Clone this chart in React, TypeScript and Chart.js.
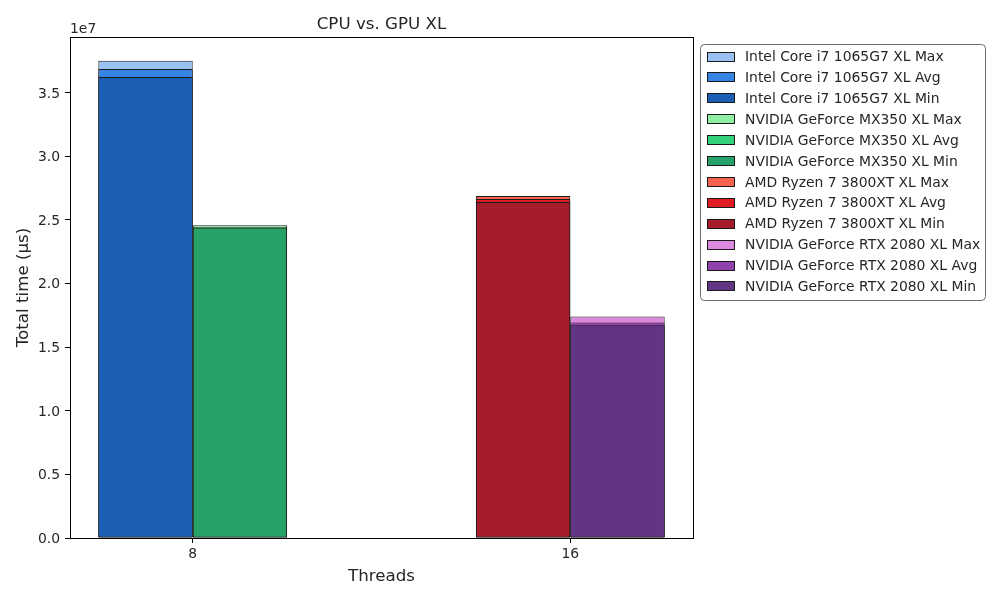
import { useEffect, useRef } from 'react';
import { Chart, registerables } from 'chart.js';

Chart.register(...registerables);

// ---- data ----
const threads = ['8', '16'];
const chipNames = [
  'Intel Core i7 1065G7',
  'NVIDIA GeForce MX350',
  'AMD Ryzen 7 3800XT',
  'NVIDIA GeForce RTX 2080',
];
const chipThreadIndex = [0, 0, 1, 1];
const chipGroup = ['cpu', 'gpu', 'cpu', 'gpu'];
const maxValues = [3.748e7, 2.457e7, 2.686e7, 1.74e7];
const avgValues = [3.685e7, 2.441e7, 2.663e7, 1.693e7];
const minValues = [3.622e7, 2.433e7, 2.639e7, 1.672e7];
const maxColors = ['#99c1f1', '#8ff0a4', '#f66151', '#dc8add'];
const avgColors = ['#3584e4', '#33d17a', '#e01b24', '#9141ac'];
const minColors = ['#1a5fb4', '#26a269', '#a51d2d', '#613583'];
const yTickValues = [0, 0.5e7, 1.0e7, 1.5e7, 2.0e7, 2.5e7, 3.0e7, 3.5e7];
const barWidthUnits = 0.25;

const FONT = "'DejaVu Sans', 'Liberation Sans', sans-serif";
const TEXT = '#262626';

export default function App() {
  const ref = useRef<HTMLCanvasElement | null>(null);

  useEffect(() => {
    if (!ref.current) return;

    const datasets: any[] = [];
    chipNames.forEach((name, c) => {
      const stats = [
        { s: 'Max', v: maxValues[c], col: maxColors[c], order: 3 },
        { s: 'Avg', v: avgValues[c], col: avgColors[c], order: 2 },
        { s: 'Min', v: minValues[c], col: minColors[c], order: 1 },
      ];
      stats.forEach((st) => {
        datasets.push({
          label: `${name} XL ${st.s}`,
          data: [{ x: chipThreadIndex[c], y: st.v }],
          backgroundColor: st.col,
          borderColor: '#1a1a1a',
          borderWidth: 1,
          borderSkipped: false,
          stack: chipGroup[c],
          order: st.order,
          categoryPercentage: barWidthUnits * 2,
          barPercentage: 1,
        });
      });
    });

    const allValues = [...maxValues, ...avgValues, ...minValues];
    const yMax = Math.max(...allValues) * 1.05;
    const xLo = -barWidthUnits;
    const xHi = threads.length - 1 + barWidthUnits;
    const xPad = (xHi - xLo) * 0.05;

    const decor = {
      id: 'decor',
      afterDraw(chart: any) {
        const { ctx, chartArea: a } = chart;
        ctx.save();
        // frame
        ctx.strokeStyle = '#000';
        ctx.lineWidth = 1;
        const l = Math.round(a.left) + 0.5;
        const t = Math.round(a.top) + 0.5;
        const r = Math.round(a.right) + 0.5;
        const b = Math.round(a.bottom) + 0.5;
        ctx.strokeRect(l, t, r - l, b - t);
        // title
        ctx.fillStyle = TEXT;
        ctx.font = `16.7px ${FONT}`;
        ctx.textAlign = 'center';
        ctx.textBaseline = 'middle';
        ctx.fillText('CPU vs. GPU XL', (a.left + a.right) / 2, 24.5);
        // offset text
        ctx.font = `13.9px ${FONT}`;
        ctx.textAlign = 'left';
        ctx.fillText('1e7', a.left, 29);
        // legend
        const lx = 700.5, ly = 44.5, lw = 285, lh = 256, rad = 4;
        ctx.beginPath();
        ctx.moveTo(lx + rad, ly);
        ctx.lineTo(lx + lw - rad, ly);
        ctx.quadraticCurveTo(lx + lw, ly, lx + lw, ly + rad);
        ctx.lineTo(lx + lw, ly + lh - rad);
        ctx.quadraticCurveTo(lx + lw, ly + lh, lx + lw - rad, ly + lh);
        ctx.lineTo(lx + rad, ly + lh);
        ctx.quadraticCurveTo(lx, ly + lh, lx, ly + lh - rad);
        ctx.lineTo(lx, ly + rad);
        ctx.quadraticCurveTo(lx, ly, lx + rad, ly);
        ctx.closePath();
        ctx.fillStyle = 'rgba(255,255,255,0.85)';
        ctx.fill();
        ctx.strokeStyle = '#6e6e6e';
        ctx.stroke();
        chart.data.datasets.forEach((ds: any, i: number) => {
          const cy = 56.5 + i * 20.9;
          ctx.fillStyle = ds.backgroundColor;
          ctx.fillRect(707, Math.round(cy - 5), 28, 10);
          ctx.strokeStyle = '#1a1a1a';
          ctx.lineWidth = 1;
          ctx.strokeRect(707.5, Math.round(cy - 5) + 0.5, 27, 9);
          ctx.fillStyle = TEXT;
          ctx.font = `13.9px ${FONT}`;
          ctx.textAlign = 'left';
          ctx.textBaseline = 'middle';
          ctx.fillText(ds.label, 745, cy + 1);
        });
        ctx.restore();
      },
    };

    const chart = new Chart(ref.current, {
      type: 'bar',
      data: { datasets },
      plugins: [decor],
      options: {
        animation: false,
        responsive: false,
        devicePixelRatio: 1,
        layout: { padding: { top: 37, right: 307, left: 0, bottom: 0 } },
        plugins: {
          legend: { display: false },
          title: { display: false },
          tooltip: { enabled: false },
        },
        scales: {
          x: {
            type: 'linear',
            min: xLo - xPad,
            max: xHi + xPad,
            offset: false,
            afterBuildTicks: (s: any) => {
              s.ticks = threads.map((_, i) => ({ value: i }));
            },
            afterFit: (s: any) => {
              s.height = 62;
            },
            ticks: {
              callback: (v: any) => threads[Number(v)] ?? '',
              color: TEXT,
              font: { family: FONT, size: 13.9 },
              padding: 3,
              maxRotation: 0,
              autoSkip: false,
            },
            grid: { drawOnChartArea: false, drawTicks: true, tickLength: 5, color: '#000', offset: false },
            border: { display: true, color: '#000', width: 1 },
            title: {
              display: true,
              text: 'Threads',
              color: TEXT,
              font: { family: FONT, size: 16.7 },
              padding: { top: 0, bottom: 13 },
            },
          },
          y: {
            type: 'linear',
            min: 0,
            max: yMax,
            stacked: false,
            afterBuildTicks: (s: any) => {
              s.ticks = yTickValues.map((v) => ({ value: v }));
            },
            afterFit: (s: any) => {
              s.width = 70;
            },
            ticks: {
              callback: (v: any) => (Number(v) / 1e7).toFixed(1),
              color: TEXT,
              font: { family: FONT, size: 13.9 },
              padding: 5,
              labelOffset: 1.5,
            },
            grid: { drawOnChartArea: false, drawTicks: true, tickLength: 5, color: '#000' },
            border: { display: true, color: '#000', width: 1 },
            title: {
              display: true,
              text: 'Total time (µs)',
              color: TEXT,
              font: { family: FONT, size: 16.7 },
              padding: { top: 14, bottom: 0 },
            },
          },
        },
      } as any,
    });

    return () => chart.destroy();
  }, []);

  return (
    <div style={{ position: 'fixed', left: 0, top: 0, width: 1000, height: 600, background: '#fff' }}>
      <canvas ref={ref} width={1000} height={600} />
    </div>
  );
}
